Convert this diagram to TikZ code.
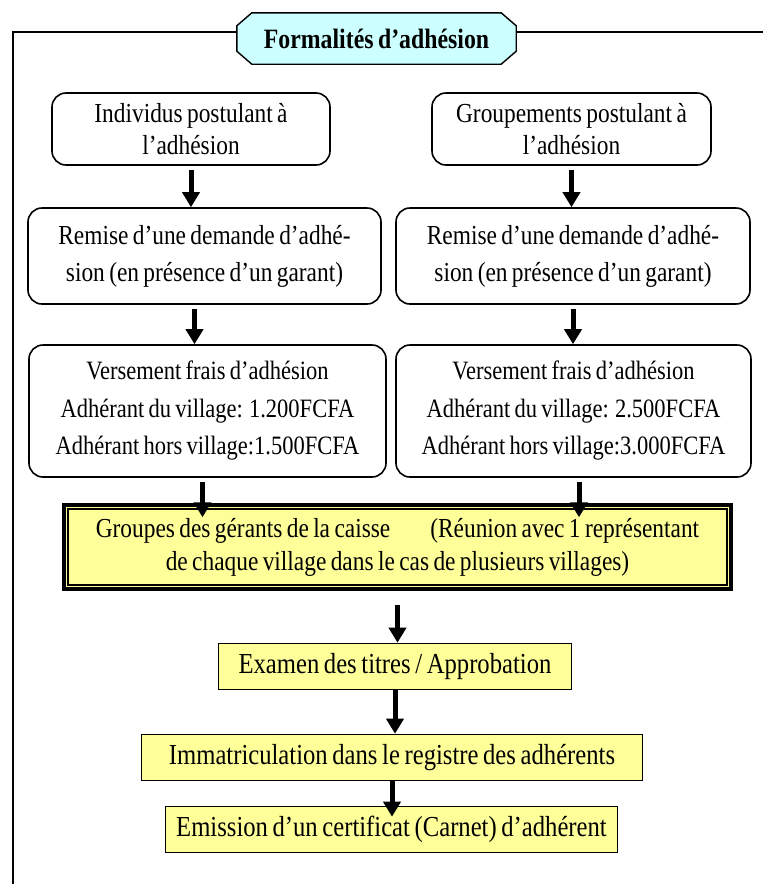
\documentclass[tikz,border=0pt]{standalone}
\usepackage{fontspec}
\setmainfont{Liberation Serif}[FakeStretch=0.85, WordSpace=0.75]
\usetikzlibrary{arrows.meta}
\definecolor{titlecyan}{HTML}{CCFFFF}
\definecolor{boxyellow}{HTML}{FFFF99}
\pgfdeclarelayer{bg}
\pgfsetlayers{bg,main}
\begin{document}
\begin{tikzpicture}[x=1pt,y=-1pt,
  every node/.style={font=\fontsize{27.5}{32}\selectfont, align=center, inner sep=0pt},
  roundbox/.style={draw, line width=1.6pt, rounded corners=14pt, fill=white},
  yellowbox/.style={draw, line width=1.6pt, fill=boxyellow, minimum height=46pt, font=\fontsize{29}{32}\selectfont},
  flowarrow/.style={line width=5pt, -{Triangle[width=17pt,length=15pt]}, shorten <=4pt},
  frameline/.style={line width=2.2pt}]
\useasboundingbox (0,0) rectangle (763,884);

% title plate
\node[minimum width=279pt, minimum height=51pt, font=\bfseries\fontsize{28}{32}\selectfont] (title) at (376.5,38.5) {Formalités d’adhésion};
\begin{pgfonlayer}{bg}
\draw[line width=1.4pt, fill=titlecyan]
  ([xshift=15pt]title.north west) -- ([xshift=-15pt]title.north east)
  -- ([yshift=-13pt]title.north east) -- ([yshift=13pt]title.south east)
  -- ([xshift=-15pt]title.south east) -- ([xshift=15pt]title.south west)
  -- ([yshift=13pt]title.south west) -- ([yshift=-13pt]title.north west) -- cycle;
\end{pgfonlayer}

% frame around the chart (top and left sides)
\coordinate (corner) at (13,32);
\draw[frameline] ([yshift=6.5pt]title.west) -- (corner) -- (13,890);
\draw[frameline] ([yshift=6.5pt]title.east) -- (770,32);

% two columns
\node[roundbox, minimum width=278pt, minimum height=72pt] (ind) at (191,129) {Individus postulant à\\l’adhésion};
\node[roundbox, minimum width=279pt, minimum height=72pt] (grp) at (571.5,129) {Groupements postulant à\\l’adhésion};

\node[roundbox, minimum width=353pt, minimum height=96pt, font=\fontsize{27.5}{37}\selectfont] (reml) at (204.5,256) {Remise d’une demande d’adhé-\\sion (en présence d’un garant)};
\node[roundbox, minimum width=354pt, minimum height=96pt, font=\fontsize{27.5}{37}\selectfont] (remr) at (573,256) {Remise d’une demande d’adhé-\\sion (en présence d’un garant)};

\node[roundbox, minimum width=357pt, minimum height=132pt, font=\fontsize{26.5}{37.5}\selectfont] (versl) at (207.5,411) {Versement frais d’adhésion\\Adhérant du village: 1.200FCFA\\Adhérant hors village:1.500FCFA};
\node[roundbox, minimum width=355pt, minimum height=132pt, font=\fontsize{26.5}{37.5}\selectfont] (versr) at (573.5,411) {Versement frais d’adhésion\\Adhérant du village: 2.500FCFA\\Adhérant hors village:3.000FCFA};

% meeting of the managers
\node[draw, line width=3.5pt, fill=boxyellow, minimum width=667pt, minimum height=84pt, font=\fontsize{27.5}{33}\selectfont] (mgr) at (397.5,547)
  {Groupes des gérants de la caisse\hspace{40pt}(Réunion avec 1 représentant\\de chaque village dans le cas de plusieurs villages)};
\draw[line width=1.8pt] ([shift={(6pt,-6pt)}]mgr.north west) rectangle ([shift={(-6pt,6pt)}]mgr.south east);

% final steps
\node[yellowbox, minimum width=353pt] (exam) at (395,666.5) {Examen des titres / Approbation};
\node[yellowbox, minimum width=501pt] (immat) at (392,757.5) {Immatriculation dans le registre des adhérents};
\node[yellowbox, minimum width=452pt] (emis) at (391.5,829.5) {Emission d’un certificat (Carnet) d’adhérent};

% arrows
\draw[flowarrow] (ind.south) -- (ind.south |- reml.north);
\draw[flowarrow] (grp.south) -- (grp.south |- remr.north);
\draw[flowarrow] ([xshift=-10pt]reml.south) -- ([xshift=-10pt]reml.south |- versl.north);
\draw[flowarrow] (remr.south) -- (remr.south |- versr.north);
\draw[flowarrow] ([xshift=-5pt]versl.south) -- ([xshift=-5pt,yshift=-14pt]versl.south |- mgr.north);
\draw[flowarrow] ([xshift=5.5pt]versr.south) -- ([xshift=5.5pt,yshift=-14pt]versr.south |- mgr.north);
\draw[flowarrow, shorten <=14pt] (mgr.south) -- (mgr.south |- exam.north);
\draw[flowarrow, shorten <=0pt] (exam.south) -- (exam.south |- immat.north);
\draw[flowarrow, shorten <=0pt] (immat.south) -- ([yshift=-11pt]immat.south |- emis.north);
\end{tikzpicture}
\end{document}
